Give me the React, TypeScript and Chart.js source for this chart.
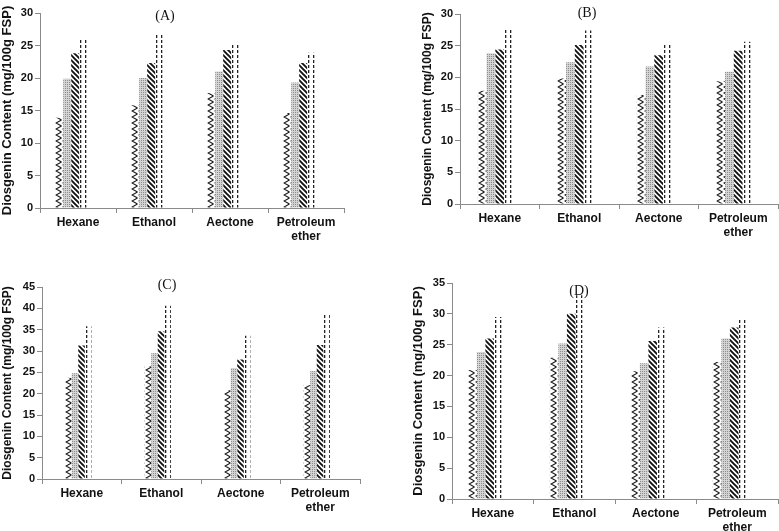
import React, { useEffect, useRef } from "react";
import { Chart, registerables } from "chart.js";
Chart.register(...registerables);

const categories: (string | string[])[] = ["Hexane", "Ethanol", "Aectone", ["Petroleum", "ether"]];
const seriesNames = ["Series 1", "Series 2", "Series 3", "Series 4"];
const yTitle = "Diosgenin Content (mg/100g FSP)";

// Panel (A)
const aSeries1 = [13.9, 15.8, 17.7, 14.6];
const aSeries2 = [19.9, 20.0, 21.0, 19.3];
const aSeries3 = [23.8, 22.3, 24.3, 22.3];
const aSeries4 = [25.9, 26.7, 25.3, 23.9];
// Panel (B)
const bSeries1 = [17.9, 19.8, 17.2, 19.4];
const bSeries2 = [23.8, 22.4, 21.7, 20.9];
const bSeries3 = [24.4, 25.1, 23.5, 24.2];
const bSeries4 = [27.7, 27.4, 25.4, 25.6];
// Panel (C)
const cSeries1 = [23.7, 26.4, 20.8, 22.0];
const cSeries2 = [24.8, 29.5, 26.0, 25.3];
const cSeries3 = [31.3, 34.6, 28.0, 31.4];
const cSeries4 = [35.8, 40.6, 33.6, 38.6];
// Panel (D)
const dSeries1 = [20.9, 22.9, 20.7, 22.2];
const dSeries2 = [23.8, 25.2, 22.0, 26.0];
const dSeries3 = [26.0, 30.0, 25.6, 27.8];
const dSeries4 = [29.5, 33.0, 27.8, 29.2];

const yMaxA = 30, yMaxB = 30, yMaxC = 45, yMaxD = 35;
const yStep = 5;

const FONT = 'Arial, "Liberation Sans", sans-serif';
const kinds = ["zigzag", "dots", "diag", "dash"];

function makeTile(kind: string): HTMLCanvasElement {
  const c = document.createElement("canvas");
  const g = c.getContext("2d")!;
  if (kind === "zigzag") {
    c.width = 7; c.height = 6;
    g.strokeStyle = "#1a1a1a"; g.lineWidth = 1.1;
    g.beginPath(); g.moveTo(6.5, 0); g.lineTo(1, 3); g.lineTo(6.5, 6); g.stroke();
  } else if (kind === "dots") {
    c.width = 2; c.height = 2;
    g.fillStyle = "#d4d4d4"; g.fillRect(0, 0, 2, 2);
    g.fillStyle = "#8c8c8c"; g.fillRect(0, 0, 1, 1);
  } else if (kind === "diag") {
    c.width = 5; c.height = 5;
    g.strokeStyle = "#111"; g.lineWidth = 1.9;
    g.beginPath();
    g.moveTo(-1, -1); g.lineTo(6, 6);
    g.moveTo(4, -1); g.lineTo(6, 1);
    g.moveTo(-1, 4); g.lineTo(1, 6);
    g.stroke();
  } else {
    c.width = 5; c.height = 5;
    g.fillStyle = "#222"; g.fillRect(1, 0, 1.3, 3);
  }
  return c;
}

function patternFor(kind: string, catPct: number, n: number) {
  return (ctx: any) => {
    const chart = ctx.chart;
    const pat = chart.ctx.createPattern(makeTile(kind), "repeat");
    const xb = chart.scales && chart.scales.xb;
    if (pat && xb && ctx.dataIndex != null) {
      const center = xb.getPixelForValue(ctx.dataIndex);
      const catW = Math.abs(xb.getPixelForValue(1) - xb.getPixelForValue(0));
      const barW = (catW * catPct) / n;
      const left = center - (catW * catPct) / 2 + ctx.datasetIndex * barW;
      pat.setTransform(new DOMMatrix().translateSelf(Math.round(left), 0));
    }
    return pat;
  };
}

const panelTitle = {
  id: "panelTitle",
  afterDraw(chart: any, _a: any, opts: any) {
    const g = chart.ctx;
    g.save();
    g.font = '14px "Liberation Serif", "Times New Roman", serif';
    g.fillStyle = "#111";
    g.textAlign = "center";
    g.textBaseline = "middle";
    g.fillText(opts.text, opts.x, opts.y);
    g.restore();
  },
};

type PanelProps = {
  left: number; top: number; width: number; height: number;
  series: number[][]; yMax: number; catPct: number; shift: number;
  padLeft: number; padTop: number; padRight: number;
  yWidth: number; xHeight: number; titleSize: number;
  label: string; labelX: number; labelY: number;
};

function Panel(p: PanelProps) {
  const ref = useRef<HTMLCanvasElement>(null);
  useEffect(() => {
    if (!ref.current) return;
    const chart = new Chart(ref.current, {
      type: "bar",
      data: {
        labels: categories as any,
        datasets: p.series.map((d, i) => ({
          label: seriesNames[i],
          data: d.map((v, j) => ({ x: j, y: v })),
          xAxisID: "xb",
          backgroundColor: patternFor(kinds[i], p.catPct, p.series.length) as any,
          borderWidth: 0,
          categoryPercentage: p.catPct,
          barPercentage: 1,
        })),
      },
      options: {
        animation: false,
        responsive: false,
        maintainAspectRatio: false,
        layout: { padding: { left: p.padLeft, top: p.padTop, right: p.padRight, bottom: 0 } },
        plugins: {
          legend: { display: false },
          tooltip: { enabled: false },
          panelTitle: { text: p.label, x: p.labelX, y: p.labelY },
        } as any,
        scales: {
          x: {
            type: "category",
            offset: true,
            grid: { display: true, drawOnChartArea: false, drawTicks: true, tickLength: 5, color: "#8a8a8a", offset: true },
            border: { display: true, color: "#8a8a8a", width: 1 },
            ticks: { color: "#111", font: { family: FONT, size: 12, weight: "bold" }, padding: 2, maxRotation: 0, autoSkip: false },
            afterFit: (s: any) => { s.height = p.xHeight; },
          },
          xb: {
            type: "linear",
            display: false,
            offset: false,
            min: -0.5 + p.shift,
            max: categories.length - 0.5 + p.shift,
            afterBuildTicks: (s: any) => { s.ticks = categories.map((_c, j) => ({ value: j })); },
          },
          y: {
            min: 0, max: p.yMax,
            grid: { display: true, drawOnChartArea: false, drawTicks: true, tickLength: 5, color: "#8a8a8a" },
            border: { display: true, color: "#8a8a8a", width: 1 },
            ticks: { stepSize: yStep, color: "#111", font: { family: FONT, size: 11, weight: "bold" }, padding: 2 },
            title: { display: true, text: yTitle, color: "#111", font: { family: FONT, size: p.titleSize, weight: "bold" }, padding: 0 },
            afterFit: (s: any) => { s.width = p.yWidth; },
          },
        },
      } as any,
      plugins: [panelTitle],
    });
    return () => chart.destroy();
  }, []);
  return (
    <div style={{ position: "absolute", left: p.left, top: p.top, width: p.width, height: p.height }}>
      <canvas ref={ref} width={p.width} height={p.height} style={{ width: p.width, height: p.height, display: "block" }} />
    </div>
  );
}

export default function App() {
  return (
    <div style={{ position: "absolute", left: 0, top: 0, width: 779, height: 531, background: "#fff", overflow: "hidden" }}>
      <Panel left={0} top={0} width={390} height={262}
        series={[aSeries1, aSeries2, aSeries3, aSeries4]} yMax={yMaxA} catPct={0.42} shift={0.09}
        padLeft={0} padTop={13} padRight={46} yWidth={40} xHeight={54} titleSize={13}
        label="(A)" labelX={165} labelY={16} />
      <Panel left={390} top={0} width={389} height={262}
        series={[bSeries1, bSeries2, bSeries3, bSeries4]} yMax={yMaxB} catPct={0.44} shift={0.056}
        padLeft={30} padTop={14} padRight={1} yWidth={40} xHeight={58} titleSize={12}
        label="(B)" labelX={197} labelY={13} />
      <Panel left={0} top={265} width={390} height={266}
        series={[cSeries1, cSeries2, cSeries3, cSeries4]} yMax={yMaxC} catPct={0.33} shift={0.044}
        padLeft={0} padTop={22} padRight={30} yWidth={42} xHeight={52} titleSize={12}
        label="(C)" labelX={167} labelY={20} />
      <Panel left={390} top={265} width={389} height={266}
        series={[dSeries1, dSeries2, dSeries3, dSeries4]} yMax={yMaxD} catPct={0.42} shift={0.09}
        padLeft={21} padTop={18} padRight={1} yWidth={41} xHeight={32} titleSize={13}
        label="(D)" labelX={189} labelY={26} />
    </div>
  );
}
